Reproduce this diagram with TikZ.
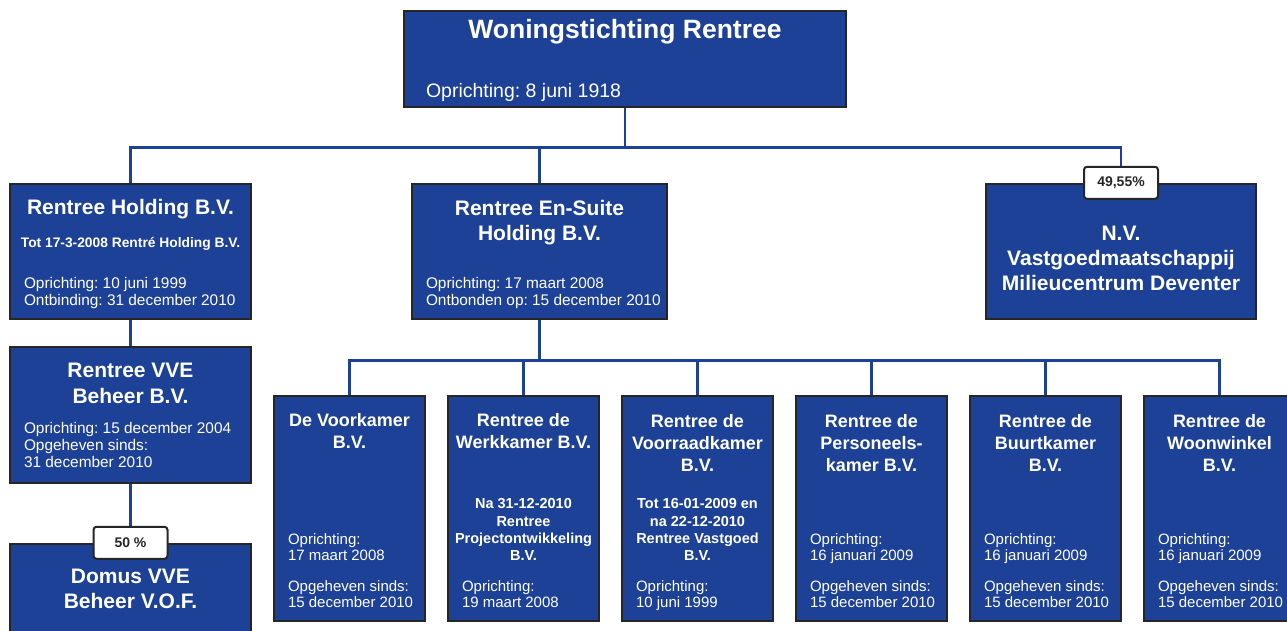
\documentclass[tikz,border=0pt]{standalone}
\usepackage{fontspec}
\setmainfont{Liberation Sans}
\usetikzlibrary{calc}
\usetikzlibrary{positioning}
\frenchspacing

\definecolor{rblue}{RGB}{29,65,150}
\definecolor{rline}{RGB}{38,38,38}

\begin{document}
\begin{tikzpicture}[x=1pt, y=-1pt,
  box/.style={draw=rline, fill=rblue, line width=2.4pt, inner sep=0pt, rectangle},
  link/.style={rblue, line width=2.6pt},
  tag/.style={draw=rline, fill=white, line width=2pt, rounded corners=3pt, minimum width=74, minimum height=32, inner sep=0pt, text=rline, font=\bfseries\fontsize{14}{16}\selectfont},
  ttl/.style={text=white, inner sep=0pt, anchor=base, align=center, font=\bfseries\fontsize{21}{25.5}\selectfont},
  ttlc/.style={ttl, font=\bfseries\fontsize{18}{22}\selectfont},
  sub/.style={ttl, font=\bfseries\fontsize{14.5}{17.3}\selectfont},
  txt/.style={text=white, inner sep=0pt, anchor=base west, align=left, font=\fontsize{15}{16.5}\selectfont}]
\useasboundingbox (0,0) rectangle (1287,630);
\fill[white] (0,0) rectangle (1287,630);
\clip (0,0) rectangle (1287,630);

% boxes
\node[box, minimum width=442, minimum height=96] (top) at (625,59) {};
\node[box, minimum width=241, minimum height=135] (hold) at (130.5,251.5) {};
\node[box, minimum width=255, minimum height=135] (ensuite) at (539.5,251.5) {};
\node[box, minimum width=270, minimum height=135] (nv) at (1121,251.5) {};
\node[box, minimum width=241, minimum height=136] (vve) at (130.5,415) {};
\node[box, minimum width=241, minimum height=112] (domus) at (130.5,600) {};
\foreach \i in {1,...,6}
  \node[box, minimum width=151, minimum height=225] (c\i) at ({349.5+174*(\i-1)},508.5) {};

% lines
\draw[link] (top.south) -- ++(0,39) coordinate (bus1);
\draw[link] (hold.north) |- (bus1) -| (nv.north);
\draw[link] (ensuite.north) -- (ensuite.north |- bus1);
\draw[link] (hold.south) -- (vve.north);
\draw[link] (vve.south) -- (domus.north);
\draw[link] (ensuite.south) -- ++(0,40) coordinate (bus2);
\draw[link] (c1.north) |- (bus2) -| (c6.north);
\foreach \i in {2,...,5}
  \draw[link] (c\i.north) -- (c\i.north |- bus2);

\node[tag] (pnv) at (nv.north) {49,55\%};
\node[tag] (pdomus) at (domus.north) {50 \%};

% texts (base = last line)
\node[ttl, font=\bfseries\fontsize{26.5}{30}\selectfont] (ttop) at ([shift={(0,29)}]top.north) {Woningstichting Rentree};
\node[txt, font=\fontsize{19.5}{22}\selectfont] (otop) at ([shift={(23,88)}]top.north west) {Oprichting: 8 juni 1918};

\node[ttl] (thold) at ([shift={(0,32)}]hold.north) {Rentree Holding B.V.};
\node[sub, font=\bfseries\fontsize{13.8}{16}\selectfont] (shold) at ([shift={(0,65)}]hold.north) {Tot 17-3-2008 Rentr\'e Holding B.V.};
\node[txt, font=\fontsize{15.4}{17}\selectfont] (ohold) at ([shift={(15,123)}]hold.north west) {Oprichting: 10 juni 1999\\Ontbinding: 31 december 2010};

\node[ttl] (tensuite) at ([shift={(0,58)}]ensuite.north) {Rentree En-Suite\\Holding B.V.};
\node[txt, font=\fontsize{15.4}{17}\selectfont] (oensuite) at ([shift={(15,123)}]ensuite.north west) {Oprichting: 17 maart 2008\\Ontbonden op: 15 december 2010};

\node[ttl, font=\bfseries\fontsize{21}{25}\selectfont] (tnv) at ([shift={(0,108)}]nv.north) {N.V.\\Vastgoedmaatschappij\\Milieucentrum Deventer};

\node[ttl, font=\bfseries\fontsize{21}{26}\selectfont] (tvve) at ([shift={(0,58)}]vve.north) {Rentree VVE\\Beheer B.V.};
\node[txt, font=\fontsize{15.4}{17}\selectfont] (ovve) at ([shift={(15,122)}]vve.north west) {Oprichting: 15 december 2004\\Opgeheven sinds:\\31 december 2010};

\node[ttl, font=\bfseries\fontsize{21}{25}\selectfont] (tdomus) at ([shift={(0,66)}]domus.north) {Domus VVE\\Beheer V.O.F.};

\node[ttlc] (tc1) at ([shift={(0,54)}]c1.north) {De Voorkamer\\B.V.};
\node[ttlc] (tc2) at ([shift={(0,54)}]c2.north) {Rentree de\\Werkkamer B.V.};
\node[ttlc] (tc3) at ([shift={(0,77)}]c3.north) {Rentree de\\Voorraadkamer\\B.V.};
\node[ttlc] (tc4) at ([shift={(0,77)}]c4.north) {Rentree de\\Personeels-\\kamer B.V.};
\node[ttlc] (tc5) at ([shift={(0,77)}]c5.north) {Rentree de\\Buurtkamer\\B.V.};
\node[ttlc] (tc6) at ([shift={(0,77)}]c6.north) {Rentree de\\Woonwinkel\\B.V.};

\node[sub] (sc2) at ([shift={(0,166)}]c2.north) {Na 31-12-2010\\Rentree\\Projectontwikkeling\\B.V.};
\node[sub] (sc3) at ([shift={(0,166)}]c3.north) {Tot 16-01-2009 en\\na 22-12-2010\\Rentree Vastgoed\\B.V.};

\node[txt] (oc1) at ([shift={(15,166)}]c1.north west) {Oprichting:\\17 maart 2008};
\node[txt] (oc2) at ([shift={(15,213)}]c2.north west) {Oprichting:\\19 maart 2008};
\node[txt] (oc3) at ([shift={(15,213)}]c3.north west) {Oprichting:\\10 juni 1999};
\foreach \i in {4,5,6}
  \node[txt] (oc\i) at ([shift={(15,166)}]c\i.north west) {Oprichting:\\16 januari 2009};
\foreach \i in {1,4,5,6}
  \node[txt] (gc\i) at ([shift={(15,213)}]c\i.north west) {Opgeheven sinds:\\15 december 2010};

\end{tikzpicture}
\end{document}
